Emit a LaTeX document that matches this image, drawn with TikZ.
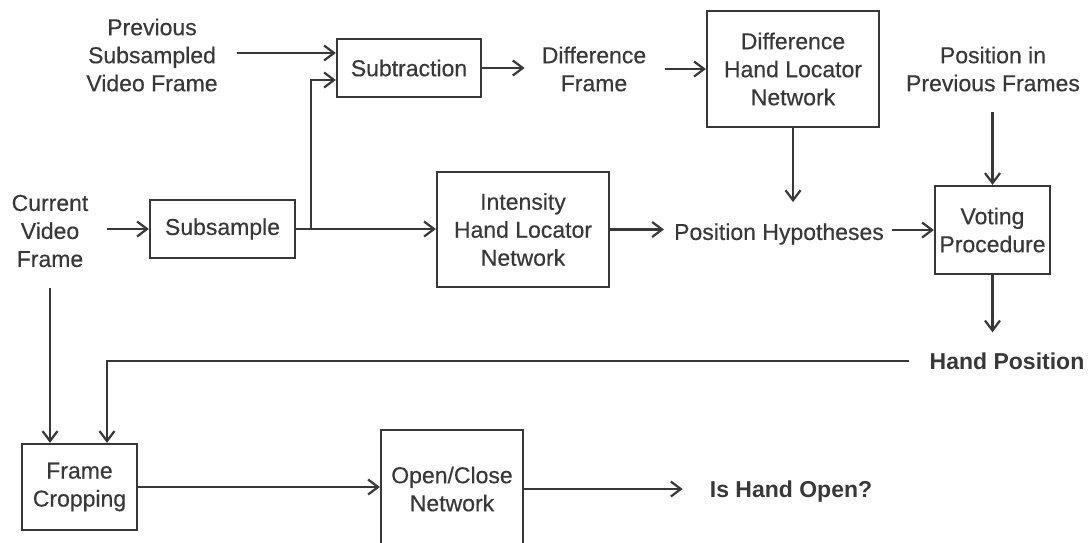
\documentclass[tikz,border=0pt]{standalone}
\usepackage{fontspec}
\setmainfont{Liberation Sans}[UprightFeatures={FakeBold=0.35}]
\usetikzlibrary{arrows.meta,calc}
\definecolor{ink}{HTML}{383838}
\begin{document}
\begin{tikzpicture}[x=1pt,y=-1pt,
  every node/.style={text=ink, font=\fontsize{23}{28}\selectfont},
  lbl/.style={inner sep=0pt, align=center},
  bold/.style={font=\fontsize{23}{28}\selectfont\bfseries},
  blk/.style={draw=ink, line width=2.2pt, inner sep=0pt, align=center},
  arr/.style={draw=ink, line width=2.2pt, -{Straight Barb[length=10pt,width=15pt]}}]
\useasboundingbox (0,0) rectangle (1091,542);
\clip (0,0) rectangle (1091,542);
\fill[white] (0,0) rectangle (1091,542);

% text labels
\node[lbl] (prev) at (152,55) {Previous\\Subsampled\\Video Frame};
\node[lbl] (cur) at (50,231) {Current\\Video\\Frame};
\node[lbl] (dfr) at (594,69) {Difference\\Frame};
\node[lbl] (ppf) at (993,69) {Position in\\Previous Frames};
\node[lbl] (ph) at (779,234) {Position Hypotheses};
\node[lbl, bold] (hp) at (1007,361) {Hand Position};
\node[lbl, bold] (iho) at (791,492) {Is Hand Open?};

% blocks
\node[blk, minimum width=144pt, minimum height=58pt] (sub) at (409,68) {Subtraction};
\node[blk, minimum width=145pt, minimum height=58pt] (subs) at (222.5,229) {Subsample};
\node[blk, minimum width=172pt, minimum height=116pt] (dhl) at (793,69) {Difference\\Hand Locator\\Network};
\node[blk, minimum width=172pt, minimum height=115pt] (ihl) at (523,229.5) {Intensity\\Hand Locator\\Network};
\node[blk, minimum width=115pt, minimum height=88pt] (vote) at (992.5,230) {Voting\\Procedure};
\node[blk, minimum width=115pt, minimum height=86pt] (crop) at (79.5,487) {Frame\\Cropping};
\node[blk, minimum width=142pt, minimum height=118pt] (oc) at (452,489) {Open/Close\\Network};

% helper coordinates
\coordinate (subin1) at ($(sub.west)+(0,-15)$);
\coordinate (subin2) at ($(sub.west)+(0,12)$);
\coordinate (br) at ($(subs.east)+(15,0)$);
\coordinate (cropin2) at ($(crop.north)+(27.5,0)$);

% connectors
\draw[arr, shorten <=19pt] (prev.east |- subin1) -- (subin1);
\draw[arr] (subs.east) -- (subs.east -| ihl.west);
\draw[arr] (br) |- (subin2);
\draw[arr, shorten <=18pt] (cur.east |- subs.west) -- (subs.west);
\draw[arr, shorten >=17pt] (sub.east) -- (sub.east -| dfr.west);
\draw[arr, shorten <=19pt] (dfr.east |- dhl.west) -- (dhl.west);
\draw[arr, shorten >=21pt] (dhl.south) -- (dhl.south |- ph.north);
\draw[arr, shorten >=10pt] (ihl.east) -- (ihl.east -| ph.west);
\draw[arr, shorten <=8pt] (ph.east |- vote.west) -- (vote.west);
\draw[arr, shorten <=20pt] (ppf.south -| vote.north) -- (vote.north);
\draw[arr, shorten >=20pt] (vote.south) -- (vote.south |- hp.north);
\draw[arr, shorten <=21pt] (hp.west) -| (cropin2);
\draw[arr, shorten <=21pt] (cur.south) -- (cur.south |- crop.north);
\draw[arr] (crop.east) -- (crop.east -| oc.west);
\draw[arr, shorten >=27pt] (oc.east) -- (oc.east -| iho.west);
\end{tikzpicture}
\end{document}
